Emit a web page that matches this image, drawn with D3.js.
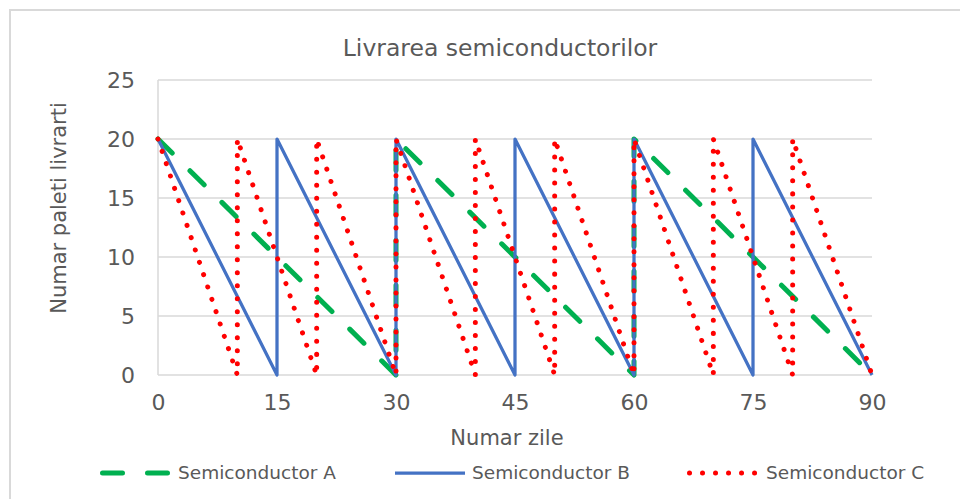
<!DOCTYPE html>
<html>
<head>
<meta charset="utf-8">
<script src="https://cdn.jsdelivr.net/npm/d3@7"></script>
<style>
  html, body { margin: 0; padding: 0; background: #fff; }
  svg { display: block; font-family: "DejaVu Sans", Verdana, sans-serif; }
</style>
</head>
<body>
<svg id="chart" width="960" height="499"></svg>
<script>
// Delivery schedules (days, pallets delivered)
const daysA = [0, 30, 30, 60, 60, 90];
const palletsA = [20, 0, 20, 0, 20, 0];

const daysB = [0, 15, 15, 30, 30, 45, 45, 60, 60, 75, 75, 90];
const palletsB = [20, 0, 20, 0, 20, 0, 20, 0, 20, 0, 20, 0];

const daysC = [0, 10, 10, 20, 20, 30, 30, 40, 40, 50, 50, 60, 60, 70, 70, 80, 80, 90];
const palletsC = [20, 0, 20, 0, 20, 0, 20, 0, 20, 0, 20, 0, 20, 0, 20, 0, 20, 0];

const seriesNames = ["Semiconductor A", "Semiconductor B", "Semiconductor C"];
const xTicks = [0, 15, 30, 45, 60, 75, 90];
const yTicks = [0, 5, 10, 15, 20, 25];

const chartTitle = "Livrarea semiconductorilor";
const xTitle = "Numar zile";
const yTitle = "Numar paleti livrarti";

const svg = d3.select("#chart");
const textColor = "#595959";
const gridColor = "#d9d9d9";

// chart area frame
svg.append("rect")
  .attr("x", 10).attr("y", 10)
  .attr("width", 1000).attr("height", 600)
  .attr("fill", "#fff")
  .attr("stroke", gridColor).attr("stroke-width", 2);

const x = d3.scaleLinear().domain([0, 90]).range([158, 872]);
const y = d3.scaleLinear().domain([0, 25]).range([375, 80]);

// horizontal gridlines
svg.append("g")
  .selectAll("line")
  .data(yTicks)
  .join("line")
  .attr("x1", x(0)).attr("x2", x(90))
  .attr("y1", d => y(d)).attr("y2", d => y(d))
  .attr("stroke", gridColor).attr("stroke-width", 1.5);

// vertical axis line
svg.append("line")
  .attr("x1", x(0)).attr("x2", x(0))
  .attr("y1", y(25)).attr("y2", y(0))
  .attr("stroke", gridColor).attr("stroke-width", 1.5);

// y axis labels
const yAxis = d3.axisLeft(y).tickValues(yTicks).tickSize(0).tickPadding(23);
const gy = svg.append("g").attr("transform", `translate(${x(0)},0)`).call(yAxis);
gy.select(".domain").remove();
gy.selectAll("text")
  .attr("font-family", "DejaVu Sans, Verdana, sans-serif")
  .attr("font-size", 22).attr("fill", textColor);

// x axis labels
const xAxis = d3.axisBottom(x).tickValues(xTicks).tickSize(0).tickPadding(19);
const gx = svg.append("g").attr("transform", `translate(0,${y(0)})`).call(xAxis);
gx.select(".domain").remove();
gx.selectAll("text")
  .attr("font-family", "DejaVu Sans, Verdana, sans-serif")
  .attr("font-size", 22).attr("fill", textColor);

// titles
svg.append("text")
  .attr("x", 500).attr("y", 56)
  .attr("text-anchor", "middle")
  .attr("font-size", 23.5).attr("fill", textColor)
  .text(chartTitle);

svg.append("text")
  .attr("x", 507).attr("y", 445)
  .attr("text-anchor", "middle")
  .attr("font-size", 21).attr("fill", textColor)
  .text(xTitle);

svg.append("text")
  .attr("transform", "translate(66,208) rotate(-90)")
  .attr("text-anchor", "middle")
  .attr("font-size", 21).attr("fill", textColor)
  .text(yTitle);

// series styles
const styles = [
  { color: "#00b050", width: 5, dash: "20,25", cap: "round" },
  { color: "#4472c4", width: 3.25, dash: null, cap: "butt" },
  { color: "#ff0000", width: 5, dash: "0.01,13", cap: "round" }
];

const series = [
  daysA.map((d, i) => [d, palletsA[i]]),
  daysB.map((d, i) => [d, palletsB[i]]),
  daysC.map((d, i) => [d, palletsC[i]])
];

const line = d3.line().x(d => x(d[0])).y(d => y(d[1]));

const plot = svg.append("g");
series.forEach((pts, i) => {
  const s = styles[i];
  plot.append("path")
    .attr("d", line(pts))
    .attr("fill", "none")
    .attr("stroke", s.color)
    .attr("stroke-width", s.width)
    .attr("stroke-linecap", s.cap)
    .attr("stroke-linejoin", "round")
    .attr("stroke-dasharray", s.dash);
});

// legend
const legendItems = [
  { x0: 100, x1: 170, tx: 178 },
  { x0: 395, x1: 465, tx: 472 },
  { x0: 687, x1: 757, tx: 766 }
];
const lg = svg.append("g");
legendItems.forEach((it, i) => {
  const s = styles[i];
  lg.append("line")
    .attr("x1", it.x0 + (s.cap === "round" ? s.width / 2 : 0))
    .attr("x2", it.x1)
    .attr("y1", 473).attr("y2", 473)
    .attr("stroke", s.color)
    .attr("stroke-width", s.width)
    .attr("stroke-linecap", s.cap)
    .attr("stroke-dasharray", s.dash);
  lg.append("text")
    .attr("x", it.tx).attr("y", 479)
    .attr("font-size", 18.5).attr("fill", textColor)
    .text(seriesNames[i]);
});
</script>
</body>
</html>
